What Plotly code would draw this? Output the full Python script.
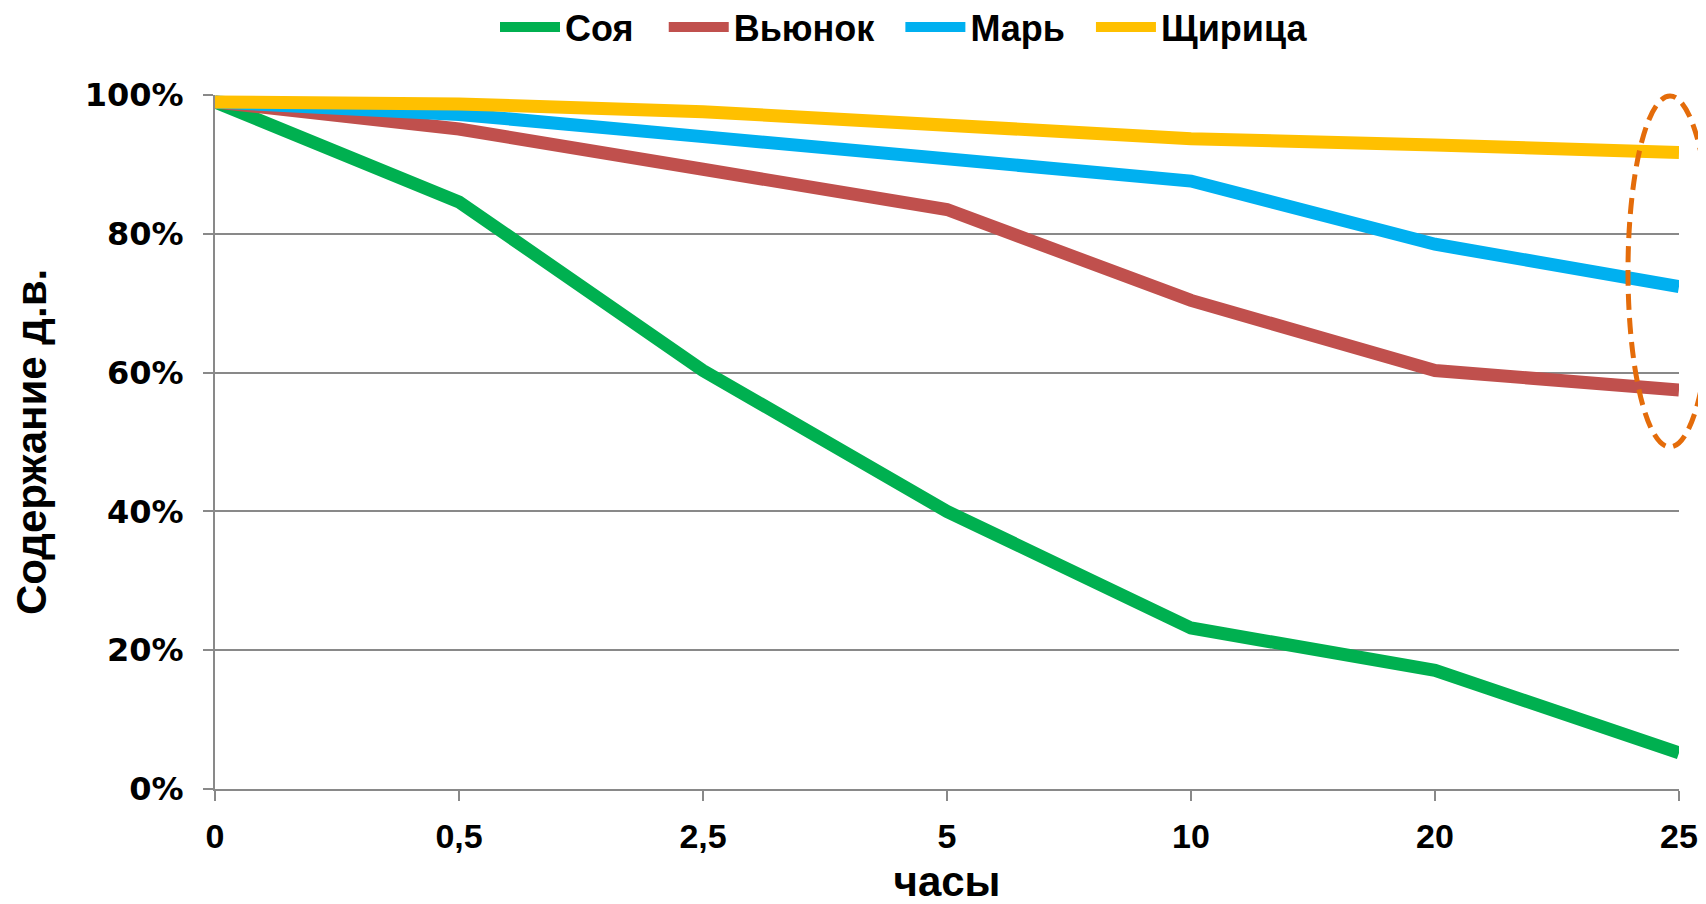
import plotly.graph_objects as go

hours = ["0", "0,5", "2,5", "5", "10", "20", "25"]
soya = [0.99, 0.846, 0.603, 0.40, 0.232, 0.171, 0.052]
vyunok = [0.99, 0.951, 0.893, 0.835, 0.704, 0.603, 0.575]
mar = [0.99, 0.972, 0.940, 0.908, 0.876, 0.785, 0.724]
shchiritsa = [0.99, 0.987, 0.976, 0.956, 0.937, 0.928, 0.917]

series = [
    ("Соя", soya, "#00B050"),
    ("Вьюнок", vyunok, "#C0504D"),
    ("Марь", mar, "#00B0F0"),
    ("Щирица", shchiritsa, "#FFC000"),
]

PADS = ["\u2002\u2009", "\u2002\u200a", "\u2002\u200a", ""]

fig = go.Figure()
for (name, vals, col), pad in zip(series, PADS):
    fig.add_trace(go.Scatter(
        x=hours, y=vals, name=name + pad, mode="lines",
        line=dict(color=col, width=13),
        cliponaxis=False,
    ))

# page body has an 8px margin, so lay out in screen pixels and shift
OFF = 8
W, H = 1706, 904
PL, PT, PR, PB = 215, 95, 1679, 789  # plot area in screen pixels
L = PL - OFF
T = PT - OFF
pw, ph = PR - PL, PB - PT
R = W - L - pw
B = H - T - ph

def px(x):
    return (x - PL) / pw

def py(y):
    return (PB - y) / ph

fig.add_shape(
    type="circle", xref="paper", yref="paper",
    x0=px(1628), x1=px(1712), y0=py(447), y1=py(96),
    line=dict(color="#E46C0A", width=5, dash="16px,8px"),
)

bold = "Liberation Sans"
fig.update_layout(
    width=W, height=H,
    margin=dict(l=L, r=R, t=T, b=B, autoexpand=False),
    paper_bgcolor="white", plot_bgcolor="white",
    showlegend=True,
    legend=dict(
        orientation="h", x=px(904), xanchor="center", y=py(27),
        yanchor="middle",
        font=dict(family=bold, size=36, color="black", weight="bold"),
        itemwidth=60, tracegroupgap=0,
    ),
    xaxis=dict(
        type="category", range=[0, 6],
        showgrid=False, showline=True, linecolor="#898989", linewidth=2,
        ticks="outside", ticklen=10, tickcolor="#898989", tickwidth=1.5,
        tickfont=dict(family=bold, size=34, color="black", weight="bold"),
        ticklabelstandoff=6,
        title=dict(text="часы", font=dict(family=bold, size=42, color="black", weight="bold"), standoff=13),
    ),
    yaxis=dict(
        range=[0, 1], tickvals=[0, 0.2, 0.4, 0.6, 0.8, 1.0],
        ticktext=["0%", "20%", "40%", "60%", "80%", "100%"],
        showgrid=True, gridcolor="#898989", gridwidth=2,
        showline=True, linecolor="#898989", linewidth=2,
        ticks="outside", ticklen=10, tickcolor="#898989", tickwidth=2,
        zeroline=False,
        tickfont=dict(family="DejaVu Sans", size=32, color="black", weight="bold"),
        ticklabelstandoff=13,
        title=dict(text="Содержание д.в.", font=dict(family=bold, size=42, color="black", weight="bold"), standoff=31),
    ),
)

fig.write_html("out.html")
